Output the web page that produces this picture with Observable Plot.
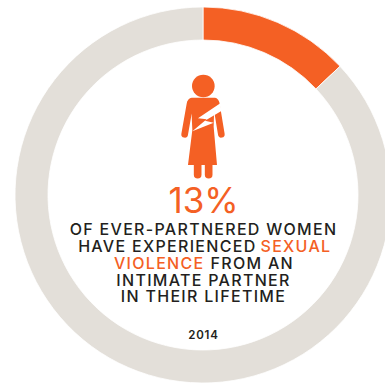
<!DOCTYPE html>
<html>
<head>
<meta charset="utf-8">
<style>
  html, body { margin: 0; padding: 0; background: #fff; overflow: hidden; }
</style>
<script src="https://cdn.jsdelivr.net/npm/d3@7"></script>
<script src="https://cdn.jsdelivr.net/npm/@observablehq/plot@0.6"></script>
</head>
<body>
<script>
// Ring shares, in percent of ever-partnered women
const shareLabels = ["Experienced sexual violence", "Did not"];
const shareValues = [13, 87];
const shareColors = ["#F46024", "#E3DFD9"];

// Caption runs
const headline = ["13%"];
const darkLines = ["OF EVER-PARTNERED WOMEN", "INTIMATE PARTNER", "IN THEIR LIFETIME"];
const year = ["2014"];

const W = 385, H = 383, cx = 203, cy = 195, outer = 188, inner = 155;
const ORANGE = "#F46024", INK = "#231F20", FONT = "Inter, sans-serif", BODY = 16;

const ends = Array.from(d3.cumsum(shareValues));
const slices = shareLabels.map((label, i) => ({
  label, color: shareColors[i], start: ends[i] - shareValues[i], end: ends[i]
}));

// Bars on an angular x scale, redrawn as ring segments
function ringSegments(index, scales, values) {
  const arc = d3.arc().innerRadius(inner).outerRadius(outer);
  const g = d3.create("svg:g").attr("transform", `translate(${cx},${cy})`);
  for (const i of index) {
    g.append("path")
      .attr("d", arc({startAngle: values.x1[i], endAngle: values.x2[i]}))
      .attr("fill", slices[i].color)
      .attr("stroke", "#fff")
      .attr("stroke-width", 0.8);
  }
  return g.node();
}

// Figure of a woman with a lightning bolt across the chest
function figure() {
  const g = d3.create("svg:g").attr("transform", "translate(150,0) scale(0.3333)");
  g.append("circle").attr("cx", 160).attr("cy", 258).attr("r", 34).attr("fill", ORANGE);
  const limbs = [[120, 312, 104, 403, 20], [199, 312, 214, 403, 20], [143, 490, 143, 524, 23], [176, 490, 176, 524, 23]];
  for (const [x1, y1, x2, y2, w] of limbs) {
    g.append("line").attr("x1", x1).attr("y1", y1).attr("x2", x2).attr("y2", y2)
      .attr("stroke", ORANGE).attr("stroke-width", w).attr("stroke-linecap", "round");
  }
  g.append("path").attr("fill", ORANGE)
    .attr("d", "M125 293L194 293Q204 294 207 305L192 345L191 380L201 495L114 495L127 390L125 345L111 308Q114 295 125 293Z");
  g.append("path").attr("fill", "#fff")
    .attr("d", "M211 310L144 355L170 358L127 394L191 368L165 362L214 333Z");
  return g.node();
}

// Text runs set from the frame's top-left corner, each with its own tracking
const run = (text, anchor, x, y, size, weight, fill, tracking = 1.3) => Plot.text([text], {
  text: d => d, frameAnchor: "top-left", textAnchor: anchor, dx: x, dy: y,
  fontSize: size, fontWeight: weight, fontFamily: FONT, fill,
  render(index, scales, values, dimensions, context, next) {
    const node = next(index, scales, values, dimensions, context);
    node.style.letterSpacing = `${tracking}px`;
    return node;
  }
});

const plot = Plot.plot({
  width: W,
  height: H,
  margin: 0,
  x: {domain: [0, 100], range: [0, 2 * Math.PI], axis: null},
  style: {background: "#fff"},
  marks: [
    Plot.barX(slices, {x1: "start", x2: "end", render: ringSegments}),
    figure,
    run(headline[0], "middle", cx, 188, 35, 400, ORANGE, 0),
    run(darkLines[0], "middle", cx, 223.6, BODY, 500, INK),
    run("HAVE EXPERIENCED", "end", 256, 240.6, BODY, 500, INK),
    run("SEXUAL", "start", 260, 240.6, BODY, 500, ORANGE),
    run("VIOLENCE", "end", 204, 257, BODY, 500, ORANGE),
    run("FROM AN", "start", 210, 257, BODY, 500, INK),
    run(darkLines[1], "middle", cx, 274, BODY, 500, INK),
    run(darkLines[2], "middle", cx, 290.6, BODY, 500, INK),
    run(year[0], "middle", cx, 330.5, 11.5, 600, INK, 0.8)
  ]
});
document.body.append(plot);
</script>
</body>
</html>
